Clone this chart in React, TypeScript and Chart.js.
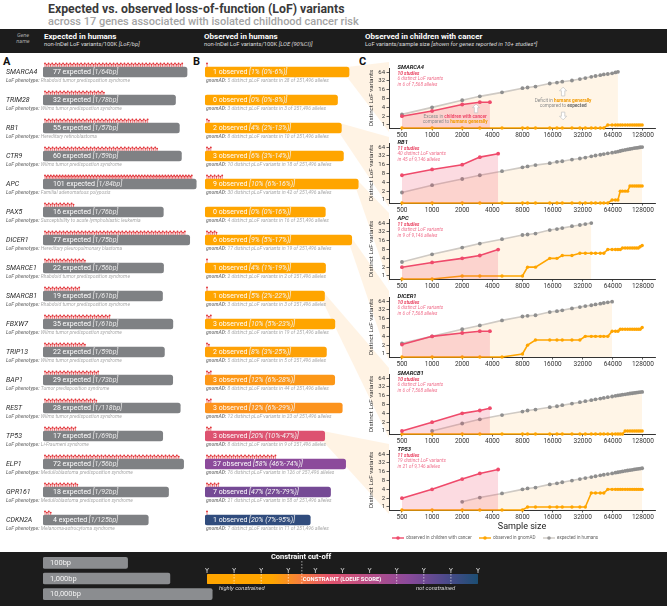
import React, { useEffect, useRef } from "react";
import { Chart, registerables } from "chart.js";
Chart.register(...registerables);

const FONT = "Roboto, 'Noto Sans', 'DejaVu Sans', sans-serif";

// ---------------- Panel A / B data ----------------
const genes = ["SMARCA4", "TRIM28", "RB1", "CTR9", "APC", "PAX5", "DICER1", "SMARCE1", "SMARCB1", "FBXW7", "TRIP13", "BAP1", "REST", "TP53", "ELP1", "GPR161", "CDKN2A"];
const phenotypes = [
  "Rhabdoid tumor predisposition syndrome", "Wilms tumor predispostion syndrome", "Hereditary retinoblastoma",
  "Wilms tumor predispostion syndrome", "Familial adenomatous polyposis", "Susceptibility to acute lymphoblastic leukemia",
  "Hereditary pleuropulmonary blastoma", "Rhabdoid tumor predisposition syndrome", "Rhabdoid tumor predisposition syndrome",
  "Wilms tumor predispostion syndrome", "Wilms tumor predispostion syndrome", "Tumor predisposition syndrome",
  "Wilms tumor predispostion syndrome", "Li-Fraumeni syndrome", "Medulloblastoma predisposition syndrome",
  "Medulloblastoma predisposition syndrome", "Melanoma-astrocytoma syndrome"];
const expectedLoF = [77, 32, 55, 60, 101, 16, 77, 22, 19, 35, 22, 29, 28, 17, 72, 18, 4];
const bpPerLoF = [64, 78, 57, 59, 84, 76, 75, 56, 61, 61, 59, 73, 118, 69, 56, 92, 125];
const observedLoF = [1, 0, 2, 3, 9, 0, 6, 1, 1, 3, 2, 3, 3, 3, 37, 7, 1];
const loePct = [1, 0, 4, 6, 10, 0, 9, 4, 5, 10, 8, 12, 12, 20, 58, 47, 20];
const loeLowPct = [0, 0, 2, 3, 6, 0, 5, 1, 2, 5, 3, 6, 6, 10, 46, 27, 7];
const loeufPct = [6, 8, 13, 14, 16, 16, 17, 19, 22, 23, 25, 28, 29, 47, 74, 79, 95];
const gnomadDistinct = [5, 3, 8, 10, 30, 4, 17, 2, 3, 8, 5, 8, 12, 8, 76, 21, 7];
const gnomadCarriers = [28, 3, 10, 18, 42, 16, 19, 2, 3, 19, 5, 44, 23, 9, 126, 58, 11];
const gnomadAlleles = "251,496";

// ---------------- legends ----------------
const sizeLegendBp = [100, 1000, 10000];
const sizeLegendLabels = ["100bp", "1,000bp", "10,000bp"];
const constraintTicks = [0, 0.1, 0.2, 0.3, 0.4, 0.5, 0.6, 0.7, 0.8, 0.9, 1];
const constraintCutoff = 0.35;
const constraintStops: [number, string][] = [[0, "#FFA500"], [0.24, "#FFA500"], [0.34, "#F8813A"], [0.45, "#E3536C"], [0.6, "#B74E88"], [0.74, "#8C4A9B"], [0.88, "#4D4A8B"], [1, "#1C4E73"]];

// ---------------- Panel C data ----------------
const cGenes = ["SMARCA4", "RB1", "APC", "DICER1", "SMARCB1", "TP53"];
const cStudies = [10, 11, 11, 10, 10, 11];
const cDistinct = [6, 40, 9, 6, 6, 19];
const cCarriers = [6, 45, 9, 6, 6, 21];
const cAlleles = ["7,568", "9,146", "9,146", "7,568", "7,568", "9,146"];
const xTickValues = [500, 1000, 2000, 4000, 8000, 16000, 32000, 64000, 128000];
const yTickValues = [1, 2, 4, 8, 16, 32, 64];

const childN7568 = [500, 1000, 2000, 3000, 3784];
const childN9146 = [500, 1000, 2000, 3000, 4573];
const childSMARCA4 = [2, 3, 5, 6, 6];
const childRB1 = [7, 11, 16, 29, 38];
const childAPC = [2, 2.9, 4, 5, 8];
const childDICER1 = [2.1, 4, 5.2, 6, 6];
const childSMARCB1 = [1, 2, 4, 5, 6];
const childTP53 = [2, 4, 9, 14, 19];

const popN = [500, 1000, 2000, 3000, 5000, 8000, 9000, 10800, 15000, 17700, 20000, 25000, 30000, 34000, 39000, 43000, 48000, 52000, 57000, 63000, 68000, 72000, 76000, 80000, 85000, 90000, 95000, 100000, 105000, 110000, 115000, 120000, 125748];

const expSMARCA4 = [2.3, 4, 7, 9.5, 13, 18, 19, 20.5, 26, 28, 30, 33, 37, 40, 44, 47, 50, 53, 55, 58, 62, 65];
const expRB1 = [1.8, 3.2, 5.2, 7, 9.6, 13, 14, 15.5, 18, 20, 21, 24, 26, 28, 31, 33, 35, 37, 39, 41, 43, 45, 47, 49, 51, 53, 55, 57, 59, 60, 61, 63, 64];
const expAPC = [3, 5.5, 9.3, 12.8, 18, 25, 26, 28, 37, 40, 43, 50, 55, 59, 64];
const expDICER1 = [2.3, 4, 7, 9.4, 14, 19, 20, 21, 27, 29, 31, 36, 40, 43, 46, 49, 52, 55, 58, 61];
const expSMARCB1 = [null, 1, 1.8, 2.5, 3.5, 4.6, 5, 5.4, 6.5, 7, 7.6, 8.6, 9.6, 10.4, 11.3, 12, 12.8, 13.4, 14.2, 15, 15.8, 16.3, 16.8, 17.3, 17.8, 18.4, 19, 19.4, 19.9, 20.3, 20.8, 21.2, 21.6];
const expTP53 = [null, null, 1.5, 2.1, 2.9, 4, 4.3, 4.6, 5.9, 6.4, 7, 8, 9, 9.7, 10.5, 11.2, 12, 12.6, 13.3, 14, 14.8, 15.3, 15.9, 16.4, 17, 17.6, 18.1, 18.6, 19.1, 19.6, 20, 20.5, 21];

const gnomSMARCA4 = [0, 0, 0, 0, 0, 0, 0, 0, 0, 0, 0, 0, 0, 0, 0, 0, 0, 0, 1, 1, 1, 1, 1, 1, 1, 1, 1, 1, 1, 1, 1, 1, 1];
const gnomRB1 = [0, 0, 0, 0, 0, 0, 0, 0, 0, 0, 0, 0, 0, 0, 0, 0, 0, 0, 0, 1, 1, 1, 2, 2, 2, 2, 3, 3, 3, 3, 3, 3, 3];
const gnomAPC = [0, 0, 1, 1, 1, 1, 2, 2, 4, 4, 5, 5, 6, 6, 6, 6, 6, 6, 8, 8, 8, 8, 8, 9, 9, 9, 9, 9, 9, 9, 9, 10, 11];
const gnomDICER1 = [0, 0, 0, 0, 0, 1, 2, 3, 3, 3, 3, 3, 3, 4, 4, 4, 4, 4, 4, 6, 6, 6, 7, 7, 7, 7, 7, 7, 7, 7, 7, 7, 8];
const gnomSMARCB1 = [0, 0, 0, 0, 0, 0, 0, 0, 0, 0, 0, 0, 0, 0, 0, 0, 0, 0, 0, 0, 0, 0, 0, 0, 1, 1, 1, 1, 1, 1, 1, 1, 1];
const gnomTP53 = [0, 0, 0, 0, 0, 0, 1, 1, 1, 1, 1, 1, 1, 1, 3, 3, 3, 3, 4, 4, 4, 4, 4, 4, 4, 4, 4, 4, 4, 4, 4, 4, 4];

const childNs = [childN7568, childN9146, childN9146, childN7568, childN7568, childN9146];
const childSeries = [childSMARCA4, childRB1, childAPC, childDICER1, childSMARCB1, childTP53];
const expSeries = [expSMARCA4, expRB1, expAPC, expDICER1, expSMARCB1, expTP53];
const gnomSeries = [gnomSMARCA4, gnomRB1, gnomAPC, gnomDICER1, gnomSMARCB1, gnomTP53];

// ---------------- layout ----------------
const ROWS_TOP = 58;
const ROWS_H = 476;
const PX_PER_DECADE = 39;
const C_AXIS_Y = [128, 203, 279, 357, 434, 510];
const C_LEFT = 360;
const Y_MIN = 0.79;
const RED = "#EF4A6B";
const ORANGE = "#FFA500";

function hexToRgb(h: string) {
  const n = parseInt(h.slice(1), 16);
  return [(n >> 16) & 255, (n >> 8) & 255, n & 255];
}
function constraintColor(f: number) {
  for (let i = 1; i < constraintStops.length; i++) {
    const [o1, c1] = constraintStops[i];
    const [o0, c0] = constraintStops[i - 1];
    if (f <= o1) {
      const t = (f - o0) / (o1 - o0 || 1);
      const a = hexToRgb(c0), b = hexToRgb(c1);
      const m = a.map((v, j) => Math.round(v + (b[j] - v) * t));
      return `rgb(${m[0]},${m[1]},${m[2]})`;
    }
  }
  return constraintStops[constraintStops.length - 1][1];
}

function drawLofMarks(ctx: CanvasRenderingContext2D, x0: number, yTop: number, count: number, maxW: number) {
  if (count <= 0) return;
  const s = Math.min(1.9, (maxW - 5) / count);
  ctx.save();
  ctx.strokeStyle = "#E2363B";
  ctx.fillStyle = "#E2363B";
  ctx.lineWidth = 0.6;
  for (let i = 0; i < count; i++) {
    const x = x0 + 2 + i * s;
    const h = i % 2 === 0 ? 3.6 : 2.4;
    ctx.beginPath();
    ctx.moveTo(x, yTop);
    ctx.lineTo(x, yTop - h);
    ctx.stroke();
    ctx.beginPath();
    ctx.arc(x, yTop - h, 0.95, 0, Math.PI * 2);
    ctx.fill();
  }
  ctx.restore();
}

function richText(ctx: CanvasRenderingContext2D, segs: { t: string; c: string; b?: boolean; i?: boolean }[], x: number, y: number, size: number, align: "left" | "center") {
  const fontOf = (s: any) => `${s.i === false ? "" : "italic "}${s.b ? "bold " : ""}${size}px ${FONT}`;
  let total = 0;
  segs.forEach((s) => { ctx.font = fontOf(s); total += ctx.measureText(s.t).width; });
  let cx = align === "center" ? x - total / 2 : x;
  ctx.textAlign = "left";
  ctx.textBaseline = "middle";
  segs.forEach((s) => {
    ctx.font = fontOf(s);
    ctx.fillStyle = s.c;
    ctx.fillText(s.t, cx, y);
    cx += ctx.measureText(s.t).width;
  });
}

function blockArrow(ctx: CanvasRenderingContext2D, cx: number, yTip: number, yTail: number) {
  const dir = yTail > yTip ? 1 : -1;
  const hl = 3.6 * dir, hw = 3.6, sw = 1.7;
  ctx.save();
  ctx.beginPath();
  ctx.moveTo(cx, yTip);
  ctx.lineTo(cx + hw, yTip + hl);
  ctx.lineTo(cx + sw, yTip + hl);
  ctx.lineTo(cx + sw, yTail);
  ctx.lineTo(cx - sw, yTail);
  ctx.lineTo(cx - sw, yTip + hl);
  ctx.lineTo(cx - hw, yTip + hl);
  ctx.closePath();
  ctx.fillStyle = "#ffffff";
  ctx.fill();
  ctx.strokeStyle = "#c2c2c2";
  ctx.lineWidth = 0.7;
  ctx.stroke();
  ctx.restore();
}

// ---------------- Panel A ----------------
const panelAPlugin = {
  id: "panelA",
  afterDatasetsDraw(chart: any) {
    const ctx = chart.ctx as CanvasRenderingContext2D;
    const meta = chart.getDatasetMeta(0);
    meta.data.forEach((bar: any, i: number) => {
      const y = bar.y, base = bar.base, end = bar.x;
      ctx.save();
      ctx.textBaseline = "middle";
      ctx.textAlign = "left";
      ctx.fillStyle = "#2b2b2b";
      ctx.font = `italic 7px ${FONT}`;
      ctx.fillText(genes[i], 6, y);
      richText(ctx, [{ t: "LoF phenotype: ", c: "#8a8a8a", b: true }, { t: phenotypes[i], c: "#a9a9a9" }], 6, y + 8.7, 5, "left");
      richText(ctx, [{ t: `${expectedLoF[i]} expected `, c: "#ffffff", i: false }, { t: `[1/${bpPerLoF[i]}bp]`, c: "#ececec" }], base + 10, y + 0.3, 7, "left");
      ctx.restore();
      drawLofMarks(ctx, base, y - 5, expectedLoF[i], end - base);
    });
  },
};

function PanelA() {
  const ref = useRef<HTMLCanvasElement>(null);
  useEffect(() => {
    const lengths = expectedLoF.map((e, i) => e * bpPerLoF[i]);
    const chart = new Chart(ref.current as HTMLCanvasElement, {
      type: "bar",
      data: { labels: genes, datasets: [{ data: lengths.map((v) => [1, v]) as any, backgroundColor: "#7f8184", borderRadius: 2.5, borderSkipped: false, barThickness: 10 }] },
      options: {
        indexAxis: "y", animation: false, responsive: false,
        layout: { padding: { left: 43, right: 0, top: 0, bottom: 0 } },
        scales: { x: { type: "logarithmic", min: 1, max: Math.pow(10, 162 / PX_PER_DECADE), display: false }, y: { display: false } },
        plugins: { legend: { display: false }, tooltip: { enabled: false } },
      } as any,
      plugins: [panelAPlugin],
    });
    return () => chart.destroy();
  }, []);
  return <canvas ref={ref} width={205} height={ROWS_H} style={{ position: "absolute", left: 0, top: ROWS_TOP, width: 205, height: ROWS_H }} />;
}

// ---------------- Panel B ----------------
const cGeneRows = cGenes.map((g) => genes.indexOf(g));
const B_LEFT = 195;

const panelBPlugin = {
  id: "panelB",
  beforeDatasetsDraw(chart: any) {
    const ctx = chart.ctx as CanvasRenderingContext2D;
    const meta = chart.getDatasetMeta(0);
    ctx.save();
    cGeneRows.forEach((gi, k) => {
      const bar = meta.data[gi];
      const x0 = bar.x - 2;
      const x1 = 389 - B_LEFT;
      const pTop = C_AXIS_Y[k] - 66 - ROWS_TOP;
      const pBot = C_AXIS_Y[k] + 4 - ROWS_TOP;
      ctx.fillStyle = "rgba(255, 200, 130, 0.22)";
      ctx.beginPath();
      ctx.moveTo(x0, bar.y - 5);
      ctx.lineTo(x1, pTop);
      ctx.lineTo(x1, pBot);
      ctx.lineTo(x0, bar.y + 5);
      ctx.closePath();
      ctx.fill();
    });
    ctx.restore();
  },
  afterDatasetsDraw(chart: any) {
    const ctx = chart.ctx as CanvasRenderingContext2D;
    const meta = chart.getDatasetMeta(0);
    meta.data.forEach((bar: any, i: number) => {
      const y = bar.y, base = bar.base, end = bar.x;
      ctx.save();
      richText(ctx, [{ t: `${observedLoF[i]} observed `, c: "#ffffff", i: false }, { t: `[${loePct[i]}% (${loeLowPct[i]}%-${loeufPct[i]}%)]`, c: "#f4f4f4" }], base + 8, y + 0.3, 7, "left");
      richText(ctx, [{ t: "gnomAD: ", c: "#8a8a8a", b: true }, { t: `${gnomadDistinct[i]} distinct pLoF variants in ${gnomadCarriers[i]} of ${gnomadAlleles} alleles`, c: "#a9a9a9" }], base + 1, y + 8.7, 5, "left");
      ctx.restore();
      drawLofMarks(ctx, base, y - 5, observedLoF[i], end - base);
    });
  },
};

function PanelB() {
  const ref = useRef<HTMLCanvasElement>(null);
  useEffect(() => {
    const lengths = expectedLoF.map((e, i) => e * bpPerLoF[i]);
    const chart = new Chart(ref.current as HTMLCanvasElement, {
      type: "bar",
      data: { labels: genes, datasets: [{ data: lengths.map((v) => [1, v]) as any, backgroundColor: loeufPct.map((p) => constraintColor(p / 100)), borderRadius: 2.5, borderSkipped: false, barThickness: 10 }] },
      options: {
        indexAxis: "y", animation: false, responsive: false,
        layout: { padding: { left: 10, right: 33, top: 0, bottom: 0 } },
        scales: { x: { type: "logarithmic", min: 1, max: Math.pow(10, 162 / PX_PER_DECADE), display: false }, y: { display: false } },
        plugins: { legend: { display: false }, tooltip: { enabled: false } },
      } as any,
      plugins: [panelBPlugin],
    });
    return () => chart.destroy();
  }, []);
  return <canvas ref={ref} width={205} height={ROWS_H} style={{ position: "absolute", left: B_LEFT, top: ROWS_TOP, width: 205, height: ROWS_H }} />;
}

// ---------------- Panel C ----------------
function pts(xs: number[], ys: (number | null)[], zeroTo?: number) {
  const out: { x: number; y: number }[] = [];
  for (let i = 0; i < xs.length && i < ys.length; i++) {
    const v = ys[i];
    if (v == null) continue;
    out.push({ x: xs[i], y: v === 0 && zeroTo !== undefined ? zeroTo : v });
  }
  return out;
}

const panelCPlugin = {
  id: "panelC",
  afterDraw(chart: any, _a: any, opts: any) {
    const k = opts.k as number;
    const ctx = chart.ctx as CanvasRenderingContext2D;
    const ca = chart.chartArea;
    const xs = chart.scales.x, ys = chart.scales.y;
    ctx.save();
    const lx = ca.left + 8.5, ly = ca.top - 0.5;
    richText(ctx, [{ t: cGenes[k], c: "#1a1a1a", b: true }], lx, ly, 5.8, "left");
    richText(ctx, [{ t: `${cStudies[k]} studies`, c: "#E8405F", b: true }], lx, ly + 6.5, 4.8, "left");
    richText(ctx, [{ t: `${cDistinct[k]} distinct LoF variants`, c: "#F0718D" }], lx, ly + 11.8, 4.8, "left");
    richText(ctx, [{ t: `in ${cCarriers[k]} of ${cAlleles[k]} alleles`, c: "#F0718D" }], lx, ly + 17.1, 4.8, "left");
    if (k === 0) {
      const gray = "#8d8d8d";
      blockArrow(ctx, xs.getPixelForValue(2750), ys.getPixelForValue(5.2), ys.getPixelForValue(2.6));
      richText(ctx, [{ t: "Excess in ", c: gray, i: false }, { t: "children with cancer", c: RED, b: true, i: false }], xs.getPixelForValue(1700), ys.getPixelForValue(1.87), 4.7, "center");
      richText(ctx, [{ t: "compared to ", c: gray, i: false }, { t: "humans generally", c: "#F29A00", b: true, i: false }], xs.getPixelForValue(1700), ys.getPixelForValue(1.3), 4.7, "center");
      blockArrow(ctx, xs.getPixelForValue(20400), ys.getPixelForValue(19.5), ys.getPixelForValue(9.8));
      richText(ctx, [{ t: "Deficit in ", c: gray, i: false }, { t: "humans generally", c: "#F29A00", b: true, i: false }], xs.getPixelForValue(20400), ys.getPixelForValue(6.6), 4.7, "center");
      richText(ctx, [{ t: "compared to ", c: gray, i: false }, { t: "expected", c: "#6a6a6a", b: true, i: false }], xs.getPixelForValue(20400), ys.getPixelForValue(4.4), 4.7, "center");
      blockArrow(ctx, xs.getPixelForValue(20400), ys.getPixelForValue(1.5), ys.getPixelForValue(2.75));
    }
    if (k === 5) {
      ctx.fillStyle = "#222";
      ctx.font = `9px ${FONT}`;
      ctx.textAlign = "center";
      ctx.textBaseline = "middle";
      ctx.fillText("Sample size", (ca.left + ca.right) / 2, ca.bottom + 17);
      const ly2 = ca.bottom + 28;
      const items = [
        { x: 392, c: RED, t: "observed in children with cancer" },
        { x: 479, c: ORANGE, t: "observed in gnomAD" },
        { x: 543, c: "#999999", t: "expected in humans" },
      ];
      items.forEach((it) => {
        const x = it.x - C_LEFT;
        ctx.strokeStyle = it.c === "#999999" ? "#cfcac4" : it.c;
        ctx.lineWidth = 1.4;
        ctx.beginPath();
        ctx.moveTo(x, ly2);
        ctx.lineTo(x + 12, ly2);
        ctx.stroke();
        ctx.fillStyle = it.c;
        ctx.beginPath();
        ctx.arc(x + 6, ly2, 1.8, 0, Math.PI * 2);
        ctx.fill();
        ctx.fillStyle = "#666";
        ctx.font = `4.6px ${FONT}`;
        ctx.textAlign = "left";
        ctx.fillText(it.t, x + 14, ly2);
      });
    }
    ctx.restore();
  },
};

function PanelC({ k }: { k: number }) {
  const ref = useRef<HTMLCanvasElement>(null);
  const extra = k === 5 ? 32 : 0;
  const h = 82 + extra;
  useEffect(() => {
    const chart = new Chart(ref.current as HTMLCanvasElement, {
      type: "line",
      data: {
        datasets: [
          { label: "observed in children with cancer", data: pts(childNs[k], childSeries[k]), borderColor: RED, backgroundColor: "rgba(239,74,107,0.2)", fill: "start", borderWidth: 1.6, pointRadius: 1.9, pointBackgroundColor: RED, pointBorderWidth: 0, order: 0, clip: false, tension: 0 },
          { label: "observed in gnomAD", data: pts(popN, gnomSeries[k], Y_MIN), borderColor: ORANGE, borderWidth: 1.6, pointRadius: 1.7, pointBackgroundColor: ORANGE, pointBorderWidth: 0, fill: false, order: 1, clip: false, tension: 0 },
          { label: "expected in humans", data: pts(popN, expSeries[k]), borderColor: "#cfcac4", backgroundColor: "rgba(255,176,60,0.12)", fill: "start", borderWidth: 1.6, pointRadius: 1.9, pointBackgroundColor: "#8f8f8f", pointBorderWidth: 0, order: 2, tension: 0 },
        ],
      },
      options: {
        animation: false, responsive: false,
        layout: { padding: { left: 0, right: 12, top: 8, bottom: extra } },
        scales: {
          x: {
            type: "logarithmic", min: 371, max: 169000,
            afterBuildTicks: (s: any) => { s.ticks = xTickValues.map((v) => ({ value: v })); },
            afterFit: (s: any) => { s.height = 14; },
            ticks: { color: "#333", font: { family: FONT, size: 6.5 }, maxRotation: 0, autoSkip: false, padding: 1, callback: (v: any) => String(v) },
            grid: { drawOnChartArea: false, drawTicks: true, tickLength: 2.5, color: "#333", lineWidth: 0.8 },
            border: { color: "#333", width: 1 },
          },
          y: {
            type: "logarithmic", min: Y_MIN, max: 88,
            afterBuildTicks: (s: any) => { s.ticks = yTickValues.map((v) => ({ value: v })); },
            afterFit: (s: any) => { s.width = 29; },
            ticks: { color: "#333", font: { family: FONT, size: 6 }, padding: 1.5, autoSkip: false, callback: (v: any) => String(v) },
            grid: { drawOnChartArea: false, drawTicks: true, tickLength: 2.5, color: "#333", lineWidth: 0.8 },
            border: { color: "#333", width: 1 },
            title: { display: true, text: "Distinct LoF variants", color: "#333", font: { family: FONT, size: 6.2 }, padding: { top: 8, bottom: 0 } },
          },
        },
        plugins: { legend: { display: false }, tooltip: { enabled: false }, panelC: { k } },
      } as any,
      plugins: [panelCPlugin],
    });
    return () => chart.destroy();
  }, [k]);
  return <canvas ref={ref} width={307} height={h} style={{ position: "absolute", left: C_LEFT, top: C_AXIS_Y[k] - 68, width: 307, height: h }} />;
}

// ---------------- bottom legends ----------------
const sizePlugin = {
  id: "sizeLegend",
  afterDatasetsDraw(chart: any) {
    const ctx = chart.ctx as CanvasRenderingContext2D;
    chart.getDatasetMeta(0).data.forEach((bar: any, i: number) => {
      ctx.save();
      ctx.fillStyle = "#f2f2f2";
      ctx.font = `7.5px ${FONT}`;
      ctx.textBaseline = "middle";
      ctx.fillText(sizeLegendLabels[i], bar.base + 7, bar.y + 0.3);
      ctx.restore();
    });
  },
};

function SizeLegend() {
  const ref = useRef<HTMLCanvasElement>(null);
  useEffect(() => {
    const chart = new Chart(ref.current as HTMLCanvasElement, {
      type: "bar",
      data: { labels: sizeLegendLabels, datasets: [{ data: sizeLegendBp.map((v) => [1, v]) as any, backgroundColor: "#8b8d90", borderRadius: 2, borderSkipped: false, barThickness: 11 }] },
      options: {
        indexAxis: "y", animation: false, responsive: false,
        layout: { padding: { left: 43, right: 0, top: 3, bottom: 4 } },
        scales: { x: { type: "logarithmic", min: 1, max: Math.pow(10, 177 / 42.3), display: false }, y: { display: false } },
        plugins: { legend: { display: false }, tooltip: { enabled: false } },
      } as any,
      plugins: [sizePlugin],
    });
    return () => chart.destroy();
  }, []);
  return <canvas ref={ref} width={220} height={54} style={{ position: "absolute", left: 0, top: 552, width: 220, height: 54 }} />;
}

const constraintPlugin = {
  id: "constraintLegend",
  afterDraw(chart: any) {
    const ctx = chart.ctx as CanvasRenderingContext2D;
    const ca = chart.chartArea;
    const xs = chart.scales.x;
    ctx.save();
    ctx.fillStyle = "#ffffff";
    ctx.font = `bold 7.5px ${FONT}`;
    ctx.textAlign = "center";
    ctx.textBaseline = "middle";
    ctx.fillText("Constraint cut-off", 301 - 190, 5.5);
    ctx.strokeStyle = "#ffffff";
    ctx.lineWidth = 0.7;
    constraintTicks.forEach((v) => {
      const x = xs.getPixelForValue(v);
      ctx.beginPath();
      ctx.moveTo(x - 1.6, 16);
      ctx.lineTo(x, 18.6);
      ctx.lineTo(x + 1.6, 16);
      ctx.moveTo(x, 18.6);
      ctx.lineTo(x, 21);
      ctx.stroke();
    });
    ctx.setLineDash([1.5, 1.5]);
    ctx.lineWidth = 0.6;
    [0.1, 0.2, 0.3, 0.7, 0.8, 0.9].forEach((v) => {
      const x = xs.getPixelForValue(v);
      ctx.beginPath();
      ctx.moveTo(x, ca.top);
      ctx.lineTo(x, ca.bottom);
      ctx.stroke();
    });
    const xc = xs.getPixelForValue(constraintCutoff);
    ctx.beginPath();
    ctx.moveTo(xc, 9);
    ctx.lineTo(xc, ca.bottom);
    ctx.stroke();
    ctx.setLineDash([]);
    ctx.fillStyle = "#ffffff";
    ctx.font = `bold 5.8px ${FONT}`;
    ctx.fillText("CONSTRAINT (LOEUF SCORE)", 342 - 190, (ca.top + ca.bottom) / 2 + 0.3);
    ctx.fillStyle = "#dcdcdc";
    ctx.font = `italic 5.8px ${FONT}`;
    ctx.textAlign = "left";
    ctx.fillText("highly constrained", 219 - 190, ca.bottom + 4.5);
    ctx.fillText("not constrained", 416 - 190, ca.bottom + 4.5);
    ctx.restore();
  },
};

function ConstraintLegend() {
  const ref = useRef<HTMLCanvasElement>(null);
  useEffect(() => {
    const chart = new Chart(ref.current as HTMLCanvasElement, {
      type: "bar",
      data: {
        labels: [""],
        datasets: [{
          data: [[0, 1]] as any,
          backgroundColor: (c: any) => {
            const ch = c.chart;
            const ca = ch.chartArea;
            if (!ca) return ORANGE;
            const g = ch.ctx.createLinearGradient(ca.left, 0, ca.right, 0);
            constraintStops.forEach(([o, col]) => g.addColorStop(o, col));
            return g;
          },
          borderRadius: 2, borderSkipped: false, barPercentage: 1, categoryPercentage: 1,
        }],
      },
      options: {
        indexAxis: "y", animation: false, responsive: false,
        layout: { padding: { left: 17, right: 22, top: 10, bottom: 22 } },
        scales: {
          x: {
            type: "linear", position: "top", min: 0, max: 1,
            afterBuildTicks: (s: any) => { s.ticks = constraintTicks.map((v) => ({ value: v })); },
            afterFit: (s: any) => { s.height = 12; },
            ticks: { color: "#ffffff", font: { family: FONT, size: 5.5 }, padding: 7, maxRotation: 0, autoSkip: false, callback: (v: any) => `${Math.round(v * 100)}%` },
            grid: { display: false }, border: { display: false },
          },
          y: { display: false },
        },
        plugins: { legend: { display: false }, tooltip: { enabled: false } },
      } as any,
      plugins: [constraintPlugin],
    });
    return () => chart.destroy();
  }, []);
  return <canvas ref={ref} width={310} height={54} style={{ position: "absolute", left: 190, top: 552, width: 310, height: 54 }} />;
}

// ---------------- HTML text ----------------
const Txt = ({ x, y, size, color = "#333", weight = 400, italic = false, center = false, children }: any) => (
  <div style={{ position: "absolute", left: x, top: y, transform: `translate(${center ? "-50%" : "0"},-50%)`, fontSize: size, color, fontWeight: weight, fontStyle: italic ? "italic" : "normal", whiteSpace: "nowrap", lineHeight: 1, fontFamily: FONT }}>{children}</div>
);

export default function App() {
  return (
    <div style={{ position: "absolute", left: 0, top: 0, width: 667, height: 606, background: "#ffffff", overflow: "hidden", fontFamily: FONT }}>
      <Txt x={48} y={8.5} size={12.3} weight={700} color="#3a3a3a">Expected vs. observed loss-of-function (LoF) variants</Txt>
      <Txt x={48} y={21} size={11} weight={500} color="#a4a4a4">across 17 genes associated with isolated childhood cancer risk</Txt>
      <div style={{ position: "absolute", left: 0, top: 29, width: 667, height: 24, background: "#1c1c1c" }} />
      <Txt x={23} y={36} size={5.5} italic center color="#a8a8a8">Gene</Txt>
      <Txt x={23} y={42} size={5.5} italic center color="#a8a8a8">name</Txt>
      <Txt x={44} y={36.5} size={8} weight={700} color="#ffffff">Expected in humans</Txt>
      <Txt x={44} y={44.5} size={5.8} color="#dddddd">non-InDel LoF variants/100K <i>[LoF/bp]</i></Txt>
      <Txt x={204} y={36.5} size={8} weight={700} color="#ffffff">Observed in humans</Txt>
      <Txt x={204} y={44.5} size={5.8} color="#dddddd">non-InDel LoF variants/100K <i>[LOE (90%CI)]</i></Txt>
      <Txt x={365} y={36.5} size={8} weight={700} color="#ffffff">Observed in children with cancer</Txt>
      <Txt x={365} y={44.5} size={5.8} color="#dddddd">LoF variants/sample size <i>[shown for genes reported in 10+ studies*]</i></Txt>
      <Txt x={3} y={61} size={11} weight={700} color="#111">A</Txt>
      <Txt x={193} y={61} size={11} weight={700} color="#111">B</Txt>
      <Txt x={359} y={61} size={11} weight={700} color="#111">C</Txt>
      <div style={{ position: "absolute", left: 0, top: 552, width: 667, height: 54, background: "#1c1c1c" }} />
      <PanelA />
      <PanelB />
      {cGenes.map((g, k) => <PanelC key={g} k={k} />)}
      <SizeLegend />
      <ConstraintLegend />
    </div>
  );
}
